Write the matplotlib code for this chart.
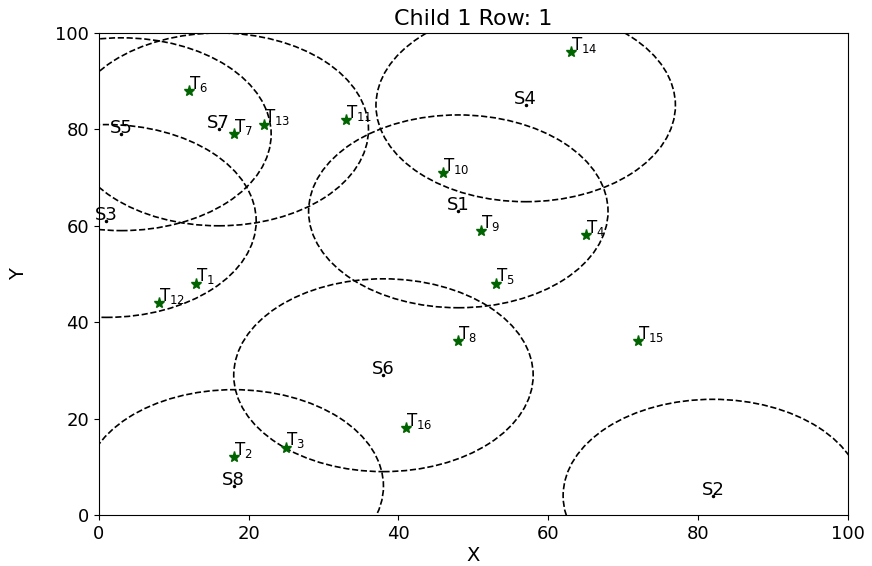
import numpy as np
import matplotlib
matplotlib.use("Agg")
import matplotlib.pyplot as plt
from matplotlib.patches import Circle

# sensors (centre of each coverage circle)
sensor_ids = [1, 2, 3, 4, 5, 6, 7, 8]
sensor_x = [48, 82, 1, 57, 3, 38, 16, 18]
sensor_y = [63, 4, 61, 85, 79, 29, 80, 6]
sensor_r = 20

# targets
target_ids = list(range(1, 17))
target_x = [13, 18, 25, 65, 53, 12, 18, 48, 51, 46, 33, 8, 22, 63, 72, 41]
target_y = [48, 12, 14, 58, 48, 88, 79, 36, 59, 71, 82, 44, 81, 96, 36, 18]

plt.rcParams['font.size'] = 13

fig = plt.figure(figsize=(8.72, 5.66), dpi=100)
ax = fig.add_axes([0.1135, 0.0901, 0.8585, 0.8516])

for i in range(len(sensor_ids)):
    c = Circle((sensor_x[i], sensor_y[i]), sensor_r, fill=False,
               linestyle='--', edgecolor='black', linewidth=1.2)
    ax.add_patch(c)
    ax.plot(sensor_x[i], sensor_y[i], 'k.', markersize=3)
    ax.annotate("S" + str(sensor_ids[i]), (sensor_x[i], sensor_y[i]),
                xytext=(0, -2), textcoords='offset points',
                ha='center', va='bottom', fontsize=13)

for i in range(len(target_ids)):
    ax.plot(target_x[i], target_y[i], '*', color='darkgreen', markersize=8)
    # number as a small subscript right after the T
    ax.annotate("T$_{" + str(target_ids[i]) + "}$", (target_x[i], target_y[i]),
                xytext=(0, -2), textcoords='offset points',
                ha='left', va='bottom', fontsize=12)

ax.set_xlim(0, 100)
ax.set_ylim(0, 100)
ax.set_xticks(np.arange(0, 101, 20))
ax.set_yticks(np.arange(0, 101, 20))
ax.set_xlabel("X", fontsize=14, labelpad=2)
ax.set_ylabel("Y", fontsize=14, labelpad=20)
ax.set_title("Child 1 Row: 1", fontsize=16)

fig.savefig("out.png", dpi=100)
